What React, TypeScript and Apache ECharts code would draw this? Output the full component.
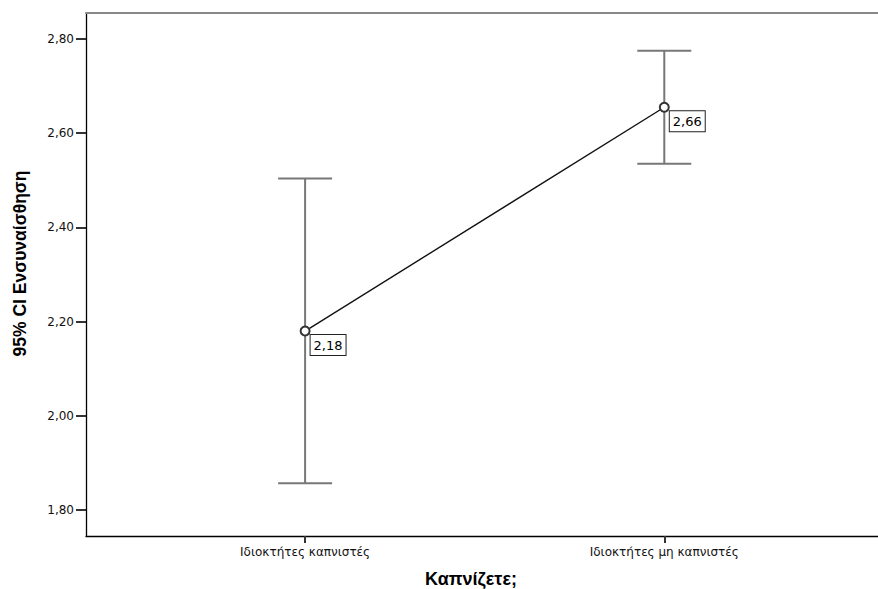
import React, { useEffect, useRef } from "react";
import * as echarts from "echarts";

const categories = ["Ιδιοκτήτες καπνιστές", "Ιδιοκτήτες μη καπνιστές"];
const means = [2.18, 2.655];
const meanLabels = ["2,18", "2,66"];
const lowerCI = [1.857, 2.535];
const upperCI = [2.504, 2.775];
const yTicks = [1.8, 2.0, 2.2, 2.4, 2.6, 2.8];
const yTitle = "95% CI Ενσυναίσθηση";
const xTitle = "Καπνίζετε;";

const FONT = "Liberation Sans, Arial, sans-serif";
const TICKFONT = "DejaVu Sans, sans-serif";

export default function App() {
  const ref = useRef<HTMLDivElement>(null);
  useEffect(() => {
    document.body.style.margin = "0";
    const chart = echarts.init(ref.current!, null, { renderer: "svg" });
    const errData = categories.map((_, i) => [i, lowerCI[i], upperCI[i]]);
    const lineData = categories.map((_, i) => ({
      value: [i, means[i]],
      label: { formatter: meanLabels[i] },
    }));
    chart.setOption({
      animation: false,
      backgroundColor: "#ffffff",
      grid: { left: 86, top: 13, width: 792, bottom: 53, containLabel: false },
      xAxis: [
        {
          type: "value",
          min: -0.61,
          max: 1.595,
          position: "bottom",
          axisLine: { show: true, onZero: false, lineStyle: { color: "#000", width: 1.3 } },
          axisTick: {
            show: true,
            inside: false,
            customValues: [0, 1],
            length: 7,
            lineStyle: { color: "#333", width: 2 },
          },
          axisLabel: {
            show: true,
            customValues: [0, 1],
            formatter: (v: number) => categories[Math.round(v)] ?? "",
            color: "#111",
            fontFamily: TICKFONT,
            fontSize: 12,
            margin: 10,
          },
          splitLine: { show: false },
        },
        {
          type: "value",
          min: -0.61,
          max: 1.595,
          position: "top",
          axisLine: { show: true, onZero: false, lineStyle: { color: "#888", width: 2 } },
          axisTick: { show: false },
          axisLabel: { show: false },
          splitLine: { show: false },
        },
      ],
      yAxis: {
        type: "value",
        min: 1.745,
        max: 2.855,
        axisLine: { show: true, onZero: false, lineStyle: { color: "#000", width: 1.3 } },
        axisTick: {
          show: true,
          inside: false,
          customValues: yTicks,
          length: 10,
          lineStyle: { color: "#333", width: 2 },
        },
        axisLabel: {
          show: true,
          customValues: yTicks,
          formatter: (v: number) => v.toFixed(2).replace(".", ","),
          color: "#111",
          fontFamily: TICKFONT,
          fontSize: 12,
          margin: 12,
        },
        splitLine: { show: false },
      },
      graphic: [
        {
          type: "text",
          x: 20,
          y: 263.5,
          rotation: Math.PI / 2,
          style: {
            text: yTitle,
            font: `bold 17.5px ${FONT}`,
            fill: "#000",
            textAlign: "center",
            textVerticalAlign: "middle",
          },
        },
        {
          type: "text",
          x: 471,
          y: 579,
          style: {
            text: xTitle,
            font: `bold 18px ${FONT}`,
            fill: "#000",
            textAlign: "center",
            textVerticalAlign: "middle",
          },
        },
      ],
      series: [
        {
          type: "custom",
          data: errData,
          renderItem: (params: any, api: any) => {
            const x = api.value(0);
            const lo = api.coord([x, api.value(1)]);
            const hi = api.coord([x, api.value(2)]);
            const hw = 27;
            const style = { stroke: "#777", lineWidth: 2 };
            return {
              type: "group",
              children: [
                { type: "line", shape: { x1: lo[0], y1: lo[1], x2: hi[0], y2: hi[1] }, style },
                { type: "line", shape: { x1: hi[0] - hw, y1: hi[1], x2: hi[0] + hw, y2: hi[1] }, style },
                { type: "line", shape: { x1: lo[0] - hw, y1: lo[1], x2: lo[0] + hw, y2: lo[1] }, style },
              ],
            };
          },
          z: 1,
        },
        {
          type: "line",
          data: lineData,
          symbol: "emptyCircle",
          symbolSize: 9,
          lineStyle: { color: "#111", width: 1.4 },
          itemStyle: { color: "#333", borderColor: "#333", borderWidth: 1.2 },
          label: {
            show: true,
            position: [11, 9.5],
            color: "#000",
            fontFamily: TICKFONT,
            fontSize: 13,
            backgroundColor: "#fff",
            borderColor: "#222",
            borderWidth: 1,
            padding: [4, 3, 3, 3],
          },
          z: 3,
        },
      ],
    });
    return () => chart.dispose();
  }, []);
  return <div ref={ref} style={{ width: 878, height: 589 }} />;
}
